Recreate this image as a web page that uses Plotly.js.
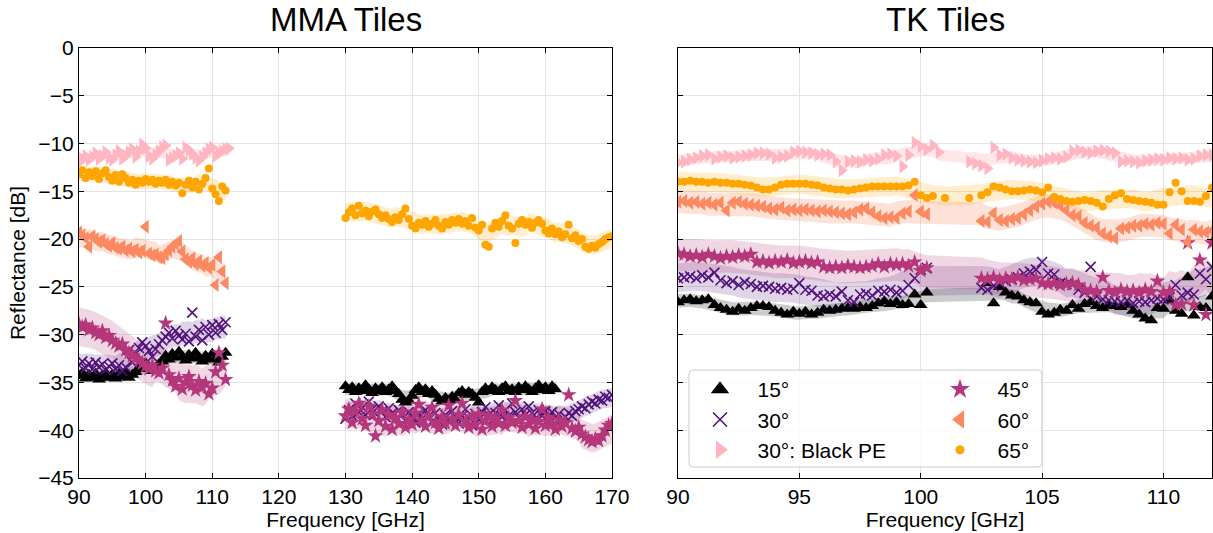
<!DOCTYPE html>
<html>
<head>
<meta charset="utf-8">
<script src="https://cdn.plot.ly/plotly-3.0.1.min.js"></script>
<style>html,body{margin:0;padding:0;background:#fff;}#chart{width:1213px;height:533px;}</style>
</head>
<body>
<div id="chart"></div>
<script>
// ---------- MMA Tiles: segment A (90-112.5 GHz) ----------
const xA = [90,90.5,91,91.5,92,92.5,93,93.5,94,94.5,95,95.5,96,96.5,97,97.5,98,98.5,99,99.5,100,100.5,101,101.5,102,102.5,103,103.5,104,104.5,105,105.5,106,106.5,107,107.5,108,108.5,109,109.5,110,110.5,111,111.5,112,112.5];
const mma15A = [-34.3,-34.0,-34.6,-34.2,-34.5,-34.1,-34.7,-34.3,-34.0,-34.5,-34.2,-34.6,-34.1,-34.4,-34.0,-34.5,-34.2,-33.9,-33.6,-33.2,-33.0,-33.4,-33.8,-33.5,-33.1,-32.8,-32.2,-32.6,-32.0,-32.4,-31.8,-32.3,-32.7,-32.1,-32.5,-31.9,-32.4,-32.8,-32.2,-32.6,-32.0,-32.5,-32.9,-32.3,-31.9,null];
const mma30A = [-33.2,-32.8,-33.5,-33.0,-33.6,-32.9,-33.4,-33.1,-33.7,-33.3,-33.0,-33.6,-33.2,-33.8,-33.4,-31.6,-32.9,-32.0,-31.4,-30.8,-31.2,-31.7,-32.3,-31.5,-31.0,-30.6,-30.2,-29.8,-30.4,-29.6,-30.1,-30.5,-29.9,-30.7,-27.7,-30.2,-29.5,-30.6,-29.2,-30.0,-29.0,-29.8,-28.9,-29.5,-28.7,null];
const mmaBPEA = [-12.0,-11.6,-11.3,-11.7,-11.4,-11.0,-11.6,-11.3,-10.9,-11.5,-11.7,-11.2,-10.8,-11.6,-11.3,-10.9,-10.6,-11.4,-10.8,-10.1,-10.5,-11.3,-11.6,-11.2,-10.8,-10.4,-10.2,-11.7,-11.5,-11.3,-11.0,-11.6,-10.4,-10.7,-11.1,-11.5,-11.8,-11.4,-11.0,-10.6,-10.4,-11.3,-11.0,-10.8,-10.6,-10.5];
const mma45A = [-28.9,-29.2,-29.0,-29.5,-29.3,-29.8,-30.0,-29.6,-30.3,-30.1,-30.6,-30.9,-31.2,-31.0,-31.6,-31.9,-32.2,-32.5,-32.7,-33.0,-33.3,-33.6,-33.2,-33.8,-34.0,-33.5,-28.8,-34.2,-34.8,-35.4,-34.6,-35.7,-35.0,-34.4,-35.3,-35.8,-34.9,-35.5,-35.1,-36.2,-35.6,-33.9,-31.9,-33.2,-34.7,null];
const mma60A = [-19.3,-19.6,-19.9,-20.8,-19.7,-20.0,-20.3,-20.1,-20.5,-20.7,-20.4,-20.9,-21.0,-20.8,-21.2,-21.0,-21.3,-21.1,-21.4,-21.2,-18.7,-21.5,-21.7,-21.6,-21.9,-22.0,-21.6,-21.2,-20.8,-20.5,-20.2,-21.3,-22.1,-22.4,-22.0,-22.6,-22.3,-22.8,-22.5,-23.0,-22.7,-24.8,-21.9,-23.4,-24.6,null];
const mma65A = [-13.2,-12.8,-13.6,-13.0,-13.4,-12.9,-13.7,-13.1,-12.8,-13.5,-13.9,-13.3,-14.0,-13.2,-13.6,-14.1,-13.8,-14.3,-13.9,-14.1,-13.7,-14.0,-13.8,-14.2,-13.9,-14.1,-13.8,-14.3,-14.0,-14.4,-14.1,-15.2,-14.3,-13.9,-14.6,-14.0,-14.8,-14.2,-13.6,-12.6,-14.7,-15.3,-16.0,-14.5,-14.9,null];

// ---------- MMA Tiles: segment B (130-170 GHz) ----------
const xB = [130,130.5,131,131.5,132,132.5,133,133.5,134,134.5,135,135.5,136,136.5,137,137.5,138,138.5,139,139.5,140,140.5,141,141.5,142,142.5,143,143.5,144,144.5,145,145.5,146,146.5,147,147.5,148,148.5,149,149.5,150,150.5,151,151.5,152,152.5,153,153.5,154,154.5,155,155.5,156,156.5,157,157.5,158,158.5,159,159.5,160,160.5,161,161.5,162,162.5,163,163.5,164,164.5,165,165.5,166,166.5,167,167.5,168,168.5,169,169.5,170];
const mma15B = [-35.4,-35.8,-35.5,-36.0,-35.6,-35.9,-35.3,-35.7,-36.1,-35.6,-35.9,-35.5,-36.0,-35.7,-35.4,-35.9,-36.2,-36.8,-37.1,-36.9,-36.4,-35.8,-35.5,-36.0,-35.7,-36.2,-35.9,-36.3,-36.7,-37.0,-36.6,-36.9,-36.5,-36.8,-36.1,-35.9,-36.3,-36.0,-36.2,-36.6,-37.1,-36.0,-35.6,-35.9,-35.5,-35.8,-36.0,-35.6,-35.4,-35.9,-35.7,-36.0,-35.5,-35.8,-35.4,-35.7,-36.0,-35.6,-35.3,-35.8,-35.5,-35.9,-35.4,-35.7,null,null,null,null,null,null,null,null,null,null,null,null,null,null,null,null,null];
const mma30B = [-38.8,-37.9,-38.5,-37.2,-38.1,-37.6,-38.4,-37.0,-37.8,-38.3,-37.5,-38.0,-38.6,-37.7,-38.2,-38.9,-37.9,-38.4,-39.0,-38.1,-38.6,-39.2,-38.3,-38.8,-37.9,-38.5,-39.1,-38.2,-38.7,-39.4,-38.4,-38.9,-38.0,-38.6,-39.3,-38.5,-37.8,-38.7,-39.5,-38.3,-38.9,-38.1,-37.6,-38.4,-39.0,-38.2,-37.4,-38.6,-37.9,-38.5,-37.2,-38.1,-38.7,-37.8,-38.4,-37.5,-38.2,-38.8,-37.9,-38.5,-38.0,-38.6,-38.1,-38.7,-38.3,-38.9,-38.6,-38.2,-38.5,-38.0,-37.8,-37.5,-37.7,-37.3,-37.0,-37.2,-36.8,-36.9,-36.5,-36.6,-36.3];
const mma45B = [-38.5,-37.8,-39.2,-38.0,-37.2,-38.8,-39.5,-37.5,-38.3,-40.6,-39.0,-37.9,-39.6,-38.4,-39.9,-38.7,-39.3,-38.1,-39.7,-38.9,-39.4,-38.2,-37.3,-39.0,-39.6,-38.5,-37.6,-39.2,-39.8,-38.6,-39.3,-37.4,-38.8,-39.5,-38.4,-37.2,-39.1,-39.7,-38.6,-39.4,-38.3,-39.9,-39.0,-38.5,-39.6,-38.8,-39.3,-37.9,-39.5,-38.7,-39.2,-36.9,-39.0,-39.7,-38.6,-39.4,-38.9,-39.8,-39.1,-37.8,-39.5,-38.7,-39.3,-39.9,-38.9,-39.6,-39.2,-36.3,-39.8,-40.1,-39.7,-40.4,-40.7,-41.0,-41.2,-40.9,-41.1,-40.6,-40.0,-39.5,-39.3];
const mma65B = [-17.8,-17.2,-16.8,-17.5,-16.5,-17.3,-17.0,-17.6,-17.1,-16.9,-17.4,-17.8,-17.5,-17.9,-18.2,-17.7,-18.0,-17.4,-16.8,-17.9,-18.6,-18.9,-18.3,-18.5,-18.1,-18.7,-18.4,-18.0,-18.6,-18.9,-18.2,-18.5,-18.0,-18.3,-17.9,-18.4,-18.1,-18.6,-17.8,-18.8,-19.1,-18.5,-20.6,-20.8,-18.9,-18.3,-18.7,-18.1,-17.5,-18.6,-18.9,-20.4,-18.4,-18.0,-18.5,-18.2,-18.8,-18.3,-18.0,-18.4,-19.1,-19.4,-18.9,-19.5,-19.2,-19.8,-19.5,-18.5,-19.9,-19.6,-20.2,-20.0,-20.8,-21.0,-20.7,-20.9,-20.5,-20.3,-20.0,-19.8,-19.7];

// ---------- TK Tiles (90-112 GHz) ----------
const xT = [90,90.25,90.5,90.75,91,91.25,91.5,91.75,92,92.25,92.5,92.75,93,93.25,93.5,93.75,94,94.25,94.5,94.75,95,95.25,95.5,95.75,96,96.25,96.5,96.75,97,97.25,97.5,97.75,98,98.25,98.5,98.75,99,99.25,99.5,99.75,100,100.25,100.5,100.75,101,101.25,101.5,101.75,102,102.25,102.5,102.75,103,103.25,103.5,103.75,104,104.25,104.5,104.75,105,105.25,105.5,105.75,106,106.25,106.5,106.75,107,107.25,107.5,107.75,108,108.25,108.5,108.75,109,109.25,109.5,109.75,110,110.25,110.5,110.75,111,111.25,111.5,111.75,112];
const tk15 = [-26.6,-26.4,-26.3,-26.5,-26.4,-26.3,-26.9,-27.2,-27.4,-27.6,-27.3,-27.5,-27.2,-27.0,-27.0,-27.1,-27.5,-27.7,-27.9,-27.6,-27.8,-27.6,-27.9,-27.7,-27.4,-27.5,-27.4,-27.3,-27.2,-27.3,-27.1,-27.2,-27.0,-26.7,-26.5,-26.8,-26.6,-26.9,-26.8,-25.8,-26.9,-25.6,null,null,null,null,null,null,null,null,null,-24.6,-26.7,-25.0,-25.6,-25.9,-26.0,-26.4,-26.6,-26.7,-27.6,-27.9,-27.7,-27.4,-27.5,-26.9,-27.3,-26.8,-26.6,-27.0,-27.2,-26.9,-27.0,-27.1,-26.9,-27.5,-27.9,-28.3,-28.5,-27.2,-27.3,-26.4,-27.5,-27.8,-24.0,-28.0,-27.1,-27.2,-26.0];
const tk30 = [-24.1,-24.0,-23.9,-24.1,-23.8,-24.0,-23.5,-24.3,-24.6,-24.4,-24.8,-24.5,-24.7,-25.0,-24.9,-25.0,-25.2,-25.1,-25.3,-25.2,-24.6,-25.3,-25.4,-25.9,-26.0,-25.8,-26.0,-25.5,-26.4,-26.6,-25.8,-25.7,-25.9,-25.4,-25.5,-25.3,-25.6,-25.4,-24.8,-24.1,-23.2,-23.0,null,null,null,null,null,null,null,null,-25.1,-25.3,-24.9,-24.6,-24.4,-24.2,-24.0,-23.6,-23.4,-23.2,-22.4,-23.6,-23.7,-24.6,-24.7,-24.8,-25.3,-25.6,-22.9,-26.0,-26.3,-26.4,-26.5,-26.6,-26.4,-26.7,-26.5,-26.6,-26.4,-26.2,-26.3,-26.1,-24.8,-25.9,-25.6,-25.8,-23.6,-24.2,-22.9];
const tkBPE = [-12.0,-11.9,-11.7,-11.5,-11.3,-11.2,-11.6,-11.4,-11.3,-11.5,-11.4,-11.3,-11.2,-11.0,-11.0,-11.1,-11.5,-11.4,-11.3,-10.9,-10.8,-10.9,-11.0,-11.2,-11.1,-11.2,-11.9,-12.8,-11.9,-11.8,-11.9,-11.7,-11.8,-11.6,-11.2,-11.1,-11.3,-12.4,-11.2,-9.9,-10.3,-10.6,-10.2,-10.9,null,null,null,null,-11.9,-12.1,-12.3,-12.6,-10.4,-11.2,-11.1,-11.5,-11.7,-11.8,-11.9,-12.0,-11.8,-11.6,-11.5,-11.6,-11.4,-10.8,-10.7,-10.9,-11.0,-10.8,-10.7,-10.8,-11.0,-11.9,-11.8,-11.9,-12.0,-11.8,-11.7,-11.6,-11.7,-11.5,-11.6,-11.5,-11.7,-11.6,-11.3,-11.2,-11.2];
const tk45 = [-21.5,-21.6,-21.8,-21.7,-21.9,-21.6,-21.8,-22.0,-21.8,-21.9,-21.7,-21.8,-21.6,-22.4,-22.3,-22.5,-22.3,-22.4,-22.2,-22.5,-22.4,-22.3,-22.5,-22.4,-22.9,-23.0,-22.9,-23.0,-22.8,-22.9,-23.0,-22.9,-22.8,-22.6,-22.9,-22.6,-22.7,-22.6,-22.8,-22.4,-23.3,-23.0,null,null,null,null,null,null,null,null,-24.1,-24.2,-24.0,-24.3,-24.1,-24.2,-24.0,-24.3,-24.2,-24.1,-24.6,-24.7,-24.6,-24.8,-24.7,-24.6,-24.8,-25.3,-25.4,-25.5,-24.0,-25.4,-25.6,-25.3,-25.5,-25.4,-25.6,-25.3,-25.5,-24.4,-25.6,-25.5,-26.9,-26.8,-20.4,-26.9,-22.2,-27.9,-20.4];
const tk60 = [-16.1,-16.0,-16.2,-16.1,-16.3,-16.2,-16.4,-16.2,-17.0,-16.2,-16.1,-16.3,-16.4,-16.5,-16.6,-16.8,-16.9,-16.7,-17.0,-16.9,-17.0,-16.9,-17.0,-17.1,-17.0,-17.1,-17.2,-17.3,-17.4,-17.2,-16.9,-16.8,-17.2,-17.6,-17.8,-17.7,-17.8,-17.3,-17.1,-15.4,-17.1,-17.4,null,null,null,null,null,null,null,null,-18.1,-18.2,-17.3,-18.0,-18.1,-17.9,-17.8,-17.4,-17.0,-16.6,-16.3,-16.1,-16.2,-16.5,-17.0,-17.5,-17.6,-18.3,-18.6,-18.8,-19.4,-19.7,-19.9,-18.9,-18.8,-18.6,-18.6,-18.4,-18.5,-18.3,-18.4,-19.4,-18.5,-19.0,-20.3,-19.0,-19.2,-19.3,-19.1];
const tk65 = [-14.0,-14.0,-13.9,-14.0,-14.0,-14.1,-14.0,-14.1,-14.1,-14.2,-14.2,-14.3,-14.4,-14.6,-14.8,-14.8,-14.6,-14.3,-14.2,-14.2,-14.2,-14.2,-14.3,-14.4,-14.6,-14.7,-14.8,-14.8,-14.9,-14.8,-14.7,-14.6,-14.5,-14.5,-14.5,-14.5,-14.5,-14.5,-14.4,-14.0,-15.4,-15.7,-15.5,null,-15.7,null,null,null,-15.7,null,-15.4,-15.1,-14.5,-14.6,-14.8,-15.0,-15.0,-14.9,-14.8,-14.9,-15.1,-14.6,-15.6,-15.8,-16.0,-16.1,-16.0,-15.9,-16.0,-16.2,-16.6,-15.8,-15.4,-15.2,-15.8,-15.9,-16.0,-16.1,-16.2,-16.4,-16.4,-15.1,-14.1,-15.0,-16.0,-16.0,-16.1,-15.5,-14.6];

// uncertainty half-widths (dB) per series: 15, 30, Black PE, 45, 60, 65
const errA = [0.6, 1.2, 0.5, 2.0, 1.0, 0.8];
const errB = [0.6, 1.0, 0.5, 1.5, 1.0, 1.0];
const errT = [0.7, 1.5, 0.6, 1.7, 1.2, 1.0];

const names = ['15°', '30°', '30°: Black PE', '45°', '60°', '65°'];

// ---------- styling ----------
const colors = ['#000000', '#51127c', '#ffb6c1', '#b5367a', '#fc8961', '#ffa500'];
const bandColors = ['rgba(0,0,0,0.2)', 'rgba(81,18,124,0.18)', 'rgba(255,182,193,0.35)', 'rgba(181,54,122,0.2)', 'rgba(252,137,97,0.25)', 'rgba(255,165,0,0.2)'];
const symbols = ['triangle-up', 'x-thin-open', 'triangle-right', 'star', 'triangle-left', 'circle'];
const sizes = [12, 10, 12, 12, 12, 8];
const legendSizes = [16, 14, 16, 15, 16, 9];
const NB = '\u00a0';
const legendNames = names.map(n => NB + NB + NB + n);
const legendIds = ['legend', 'legend', 'legend', 'legend2', 'legend2', 'legend2'];

function bandTrace(x, y, err, color, xa, ya) {
  const xs = [], ys = [];
  for (let i = 0; i < x.length; i++) if (y[i] !== null) { xs.push(x[i]); ys.push(y[i]); }
  const w = 3;
  const m = ys.map((v, i) => { let s = 0, n = 0; for (let j = i - w; j <= i + w; j++) if (j >= 0 && j < ys.length) { s += ys[j]; n++; } return s / n; });
  return {
    x: xs.concat(xs.slice().reverse()),
    y: m.map(v => v + err).concat(m.map(v => v - err).reverse()),
    xaxis: xa, yaxis: ya, type: 'scatter', mode: 'lines', fill: 'toself',
    fillcolor: color, line: {width: 0}, hoverinfo: 'skip', showlegend: false
  };
}
function markerStyle(k, size) {
  const isX = symbols[k].indexOf('x') === 0;
  return {symbol: symbols[k], size: size, color: colors[k],
          line: isX ? {width: 1.6, color: colors[k]} : {width: 0}};
}
function markerTrace(x, y, k, xa, ya) {
  return {
    x: x, y: y, xaxis: xa, yaxis: ya, type: 'scatter', mode: 'markers',
    showlegend: false, hoverinfo: 'skip', marker: markerStyle(k, sizes[k])
  };
}
// legend-only entries (no data drawn)
function legendTrace(k) {
  return {
    x: [null], y: [null], xaxis: 'x2', yaxis: 'y2', type: 'scatter', mode: 'markers',
    name: legendNames[k], legend: legendIds[k], showlegend: true, marker: markerStyle(k, legendSizes[k])
  };
}

const segA = [mma15A, mma30A, mmaBPEA, mma45A, mma60A, mma65A];
const segB = [mma15B, mma30B, null, mma45B, null, mma65B];
const segT = [tk15, tk30, tkBPE, tk45, tk60, tk65];

const traces = [];
for (let k = 0; k < 6; k++) {
  traces.push(bandTrace(xA, segA[k], errA[k], bandColors[k], 'x', 'y'));
  if (segB[k]) traces.push(bandTrace(xB, segB[k], errB[k], bandColors[k], 'x', 'y'));
  traces.push(bandTrace(xT, segT[k], errT[k], bandColors[k], 'x2', 'y2'));
}
for (let k = 0; k < 6; k++) {
  traces.push(markerTrace(xA, segA[k], k, 'x', 'y'));
  if (segB[k]) traces.push(markerTrace(xB, segB[k], k, 'x', 'y'));
  traces.push(markerTrace(xT, segT[k], k, 'x2', 'y2'));
}
for (let k = 0; k < 6; k++) traces.push(legendTrace(k));

const FONT = 'Liberation Sans, Arial, Helvetica, sans-serif';
const axisCommon = {
  showline: true, linecolor: '#000', linewidth: 1, mirror: 'allticks',
  ticks: 'inside', ticklen: 5, tickwidth: 1, tickcolor: '#000',
  showgrid: true, gridcolor: '#e3e3e3', gridwidth: 1, zeroline: false,
  tickfont: {family: FONT, size: 21, color: '#000'}, automargin: false
};
const W = 1213, H = 533;
const rx = 4 / W, ry = 4 / H;
const bx0 = 689 / W, bx1 = 1042 / W, by0 = 1 - 467 / H, by1 = 1 - 370 / H;
const boxPath = 'M ' + (bx0 + rx) + ' ' + by1 + ' L ' + (bx1 - rx) + ' ' + by1 +
  ' Q ' + bx1 + ' ' + by1 + ' ' + bx1 + ' ' + (by1 - ry) + ' L ' + bx1 + ' ' + (by0 + ry) +
  ' Q ' + bx1 + ' ' + by0 + ' ' + (bx1 - rx) + ' ' + by0 + ' L ' + (bx0 + rx) + ' ' + by0 +
  ' Q ' + bx0 + ' ' + by0 + ' ' + bx0 + ' ' + (by0 + ry) + ' L ' + bx0 + ' ' + (by1 - ry) +
  ' Q ' + bx0 + ' ' + by1 + ' ' + (bx0 + rx) + ' ' + by1 + ' Z';
const layout = {
  width: W, height: H,
  margin: {l: 0, r: 0, t: 0, b: 0},
  paper_bgcolor: '#fff', plot_bgcolor: '#fff',
  font: {family: FONT, color: '#000'},
  xaxis: Object.assign({}, axisCommon, {domain: [79 / W, 612 / W], range: [90, 170], dtick: 10, tick0: 90, anchor: 'y',
    title: {text: 'Frequency [GHz]', font: {family: FONT, size: 21}, standoff: 4}}),
  xaxis2: Object.assign({}, axisCommon, {domain: [678 / W, 1212 / W], range: [90, 112], dtick: 5, tick0: 90, anchor: 'y2',
    title: {text: 'Frequency [GHz]', font: {family: FONT, size: 21}, standoff: 4}}),
  yaxis: Object.assign({}, axisCommon, {domain: [55 / H, 485 / H], range: [-45, 0], dtick: 5, anchor: 'x',
    title: {text: 'Reflectance [dB]', font: {family: FONT, size: 21}, standoff: 6}}),
  yaxis2: Object.assign({}, axisCommon, {domain: [55 / H, 485 / H], range: [-45, 0], dtick: 5, anchor: 'x2',
    matches: 'y', showticklabels: false}),
  legend: {x: 700 / W, xanchor: 'left', y: 1 - 369 / H, yanchor: 'top', bgcolor: 'rgba(0,0,0,0)',
    borderwidth: 0, font: {family: FONT, size: 21, color: '#000'}, traceorder: 'normal', itemsizing: 'trace'},
  legend2: {x: 940 / W, xanchor: 'left', y: 1 - 369 / H, yanchor: 'top', bgcolor: 'rgba(0,0,0,0)',
    borderwidth: 0, font: {family: FONT, size: 21, color: '#000'}, traceorder: 'normal', itemsizing: 'trace'},
  shapes: [{type: 'path', path: boxPath, xref: 'paper', yref: 'paper',
    fillcolor: 'rgba(255,255,255,0.8)', line: {color: '#cccccc', width: 1}, layer: 'above'}],
  annotations: [
    {text: 'MMA Tiles', xref: 'paper', yref: 'paper', x: 345.5 / W, y: 1 - 20 / H, showarrow: false,
     xanchor: 'center', yanchor: 'middle', borderpad: 0, font: {family: FONT, size: 33, color: '#000'}},
    {text: 'TK Tiles', xref: 'paper', yref: 'paper', x: 945 / W, y: 1 - 20 / H, showarrow: false,
     xanchor: 'center', yanchor: 'middle', borderpad: 0, font: {family: FONT, size: 33, color: '#000'}}
  ],
  showlegend: true
};
Plotly.newPlot('chart', traces, layout, {displayModeBar: false, staticPlot: true});
</script>
</body>
</html>
